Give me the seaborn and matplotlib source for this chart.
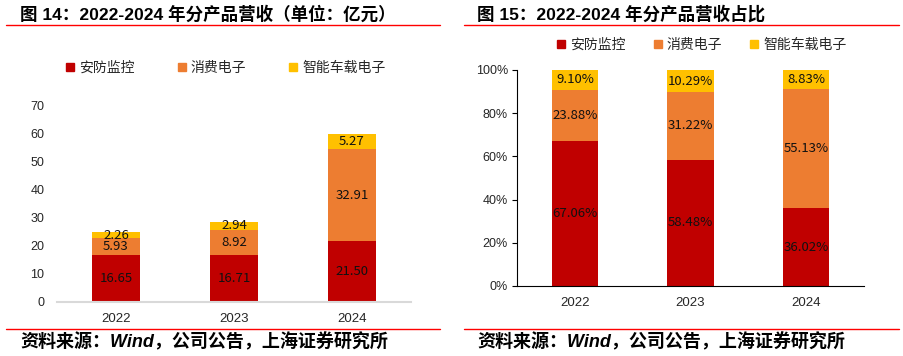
import numpy as np
import pandas as pd
import seaborn as sns
import matplotlib.pyplot as plt
from matplotlib.lines import Line2D

# data
years = ["2022", "2023", "2024"]
series = ["安防监控", "消费电子", "智能车载电子"]
security = [16.65, 16.71, 21.50]
consumer = [5.93, 8.92, 32.91]
vehicle = [2.26, 2.94, 5.27]
security_pct = [67.06, 58.48, 36.02]
consumer_pct = [23.88, 31.22, 55.13]
vehicle_pct = [9.10, 10.29, 8.83]
left_yticks = [0, 10, 20, 30, 40, 50, 60, 70]
right_yticks = [0, 20, 40, 60, 80, 100]

colors = ["#C00000", "#ED7D31", "#FFC000"]

sns.set_theme(style="white")
plt.rcParams["font.family"] = ["Liberation Sans", "Noto Sans CJK SC", "DejaVu Sans"]
CJK = ["Noto Sans CJK SC", "DejaVu Sans"]

fig = plt.figure(figsize=(9.04, 3.56), dpi=100)
W, H = 904, 356


def fx(px):
    return px / W


def fy(py):
    return 1 - py / H


def stacked(ax, layers, fmt, size):
    bottom = np.zeros(len(years))
    for vals, col in zip(layers, colors):
        sns.barplot(x=years, y=vals, bottom=bottom, color=col, width=0.4,
                    errorbar=None, saturation=1, linewidth=0, ax=ax)
        bottom = bottom + np.array(vals)
    for cont, vals in zip(ax.containers, layers):
        ax.bar_label(cont, labels=[fmt(v) for v in vals], label_type="center",
                     fontsize=size, color="#111111", family=CJK)


# left panel: revenue
ax1 = fig.add_axes([fx(57), fy(302), fx(411) - fx(57), fy(105) - fy(302)])
stacked(ax1, [security, consumer, vehicle], lambda v: f"{v:.2f}", 9.5)
ax1.set_ylim(0, 70)
ax1.set_xlim(-0.5, 2.5)
ax1.set_yticks(left_yticks)
for s in ["top", "right", "left"]:
    ax1.spines[s].set_visible(False)
ax1.spines["bottom"].set_color("#D9D9D9")
ax1.spines["bottom"].set_linewidth(1.5)
ax1.tick_params(axis="y", length=0, pad=9, labelsize=9, labelcolor="#262626")
ax1.tick_params(axis="x", length=0, pad=8, labelsize=9.5, labelcolor="#262626")
ax1.set_xlabel("")
ax1.set_ylabel("")

# right panel: share
ax2 = fig.add_axes([fx(517), fy(286), fx(864) - fx(517), fy(70) - fy(286)])
stacked(ax2, [security_pct, consumer_pct, vehicle_pct], lambda v: f"{v:.2f}%", 9.5)
ax2.set_ylim(0, 100)
ax2.set_xlim(-0.5, 2.5)
ax2.set_yticks(right_yticks)
ax2.set_yticklabels([f"{t}%" for t in right_yticks])
for s in ["top", "right"]:
    ax2.spines[s].set_visible(False)
for s in ["left", "bottom"]:
    ax2.spines[s].set_color("#000000")
    ax2.spines[s].set_linewidth(0.8)
ax2.set_xticks([-0.5, 0.5, 1.5, 2.5], minor=True)
ax2.tick_params(axis="x", which="minor", length=3.5, width=0.8, direction="out", color="black")
ax2.tick_params(axis="x", which="major", length=0, pad=8, labelsize=9.5, labelcolor="#262626")
ax2.tick_params(axis="y", length=3.5, width=0.8, direction="out", left=True, color="black",
                pad=3, labelsize=9, labelcolor="#262626")
ax2.set_xlabel("")
ax2.set_ylabel("")

# legends
handles = [Line2D([], [], marker="s", linestyle="none", markersize=5.5,
                  markerfacecolor=c, markeredgecolor=c) for c in colors]
leg_kw = dict(loc="center", ncol=3, frameon=False, handlelength=0.8, handletextpad=0.25,
              prop={"family": CJK, "size": 10}, borderpad=0)
fig.legend(handles, series, bbox_to_anchor=(fx(225), fy(68)), columnspacing=3.0, **leg_kw)
fig.legend(handles, series, bbox_to_anchor=(fx(701), fy(45)), columnspacing=1.9, **leg_kw)

# titles and source lines
title_font = ["Liberation Sans", "Noto Sans CJK SC"]
fig.text(fx(20), fy(14), "图 14：2022-2024 年分产品营收（单位：亿元）", ha="left", va="center",
         fontsize=12.6, fontweight="bold", family=title_font, color="black")
fig.text(fx(477), fy(14), "图 15：2022-2024 年分产品营收占比", ha="left", va="center",
         fontsize=12.6, fontweight="bold", family=title_font, color="black")
for x0, x1 in [(6, 440), (464, 899)]:
    for yy in [25, 329]:
        fig.add_artist(Line2D([fx(x0), fx(x1)], [fy(yy), fy(yy)], color="#FF0000", linewidth=1))
for x0 in [20, 477]:
    fig.text(fx(x0), fy(342), "资料来源：Wind，公司公告，上海证券研究所", ha="left", va="center",
             fontsize=13, fontweight="bold", fontstyle="italic", family=title_font, color="black")

fig.savefig("out.png", dpi=100)
plt.close(fig)
